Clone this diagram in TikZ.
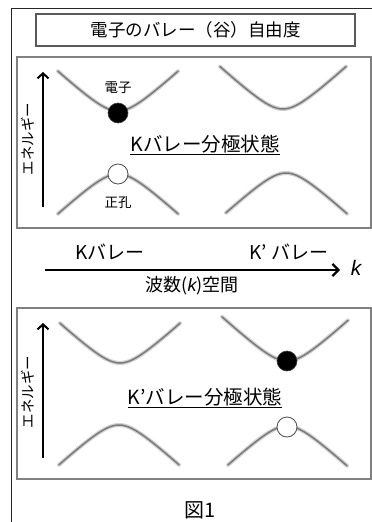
\documentclass[tikz,border=0pt]{standalone}
\usepackage{fontspec}
\setmainfont{Noto Sans CJK JP}
\newfontfamily\lsans{Liberation Sans}
\usetikzlibrary{arrows.meta}
\tikzset{
  frameline/.style={draw=black!85, line width=0.9pt},
  panel/.style={draw=black!50, line width=1.2pt},
  titlebox/.style={draw=black!65, line width=1.1pt, minimum width=319pt, minimum height=32pt, font=\fontsize{17.5}{17.5}\selectfont},
  band/.style={draw=black!52, line width=1.5pt, line cap=round},
  bandshadow/.style={draw=black!18, line width=4pt, line cap=round},
  elec/.style={circle, fill=black, draw=black!75, line width=0.6pt, minimum size=20pt, inner sep=0pt},
  hole/.style={circle, fill=white, draw=black!70, line width=0.8pt, minimum size=20pt, inner sep=0pt},
  earrow/.style={-{Straight Barb[length=5pt,width=11pt,line width=2pt]}, line width=2.4pt},
  karrow/.style={-{Straight Barb[length=6pt,width=12pt,line width=2.2pt]}, line width=2.2pt},
  small/.style={font=\fontsize{13.5}{13.5}\selectfont, inner sep=0pt},
  mid/.style={font=\fontsize{19}{19}\selectfont, inner sep=0pt},
  state/.style={font=\fontsize{19.5}{19.5}\selectfont, inner sep=0pt},
  elabel/.style={font=\fontsize{14.5}{14.5}\selectfont, inner sep=0pt, rotate=90},
}
\newcommand\condband[4]{%
  \draw[bandshadow] plot[domain=#3:#4, samples=41, smooth] ({#1+\x},{#2-0.92*(sqrt(400+\x*\x)-20)});
  \draw[band] plot[domain=#3:#4, samples=41, smooth] ({#1+\x},{#2-0.92*(sqrt(400+\x*\x)-20)});}
\newcommand\valband[4]{%
  \draw[bandshadow] plot[domain=#3:#4, samples=41, smooth] ({#1+\x},{#2+0.92*(sqrt(400+\x*\x)-20)});
  \draw[band] plot[domain=#3:#4, samples=41, smooth] ({#1+\x},{#2+0.92*(sqrt(400+\x*\x)-20)});}
\begin{document}
\begin{tikzpicture}[x=1pt,y=-1pt]
\useasboundingbox (0,0) rectangle (372,522);
\fill[white] (0,0) rectangle (372,522);
% outer frame
\draw[frameline] (11,522) -- (11,8) -- (372,8);
% title
\node[titlebox] (title) at (195.5,30) {電子のバレー（谷）自由度};
% panels
\draw[panel] (17,57) rectangle (371,228);
\draw[panel] (17,308) rectangle (371,479);
% upper panel
\coordinate (ua0) at (43,207);
\coordinate (ua1) at (43,72);
\draw[earrow] (ua0) -- (ua1);
\node[elabel] (ue) at (28,139) {エネルギー};
\condband{118}{111}{-60}{60}
\condband{283}{109}{-63}{63}
\valband{118}{174}{-60}{60}
\valband{286}{173}{-60}{61}
\node[elec] (e1) at (118,113) {};
\node[hole] (h1) at (118,174) {};
\node[small] (e1l) at (118,88) {電子};
\node[small] (h1l) at (118,203) {正孔};
\node[state] (s1) at (205,145) {\underline{Kバレー分極状態}};
% k axis
\coordinate (k0) at (45,270);
\coordinate (k1) at (340,270);
\draw[karrow] (k0) -- (k1);
\node[font=\fontsize{21}{21}\selectfont\lsans\itshape, inner sep=0pt] (kl) at (356,268) {k};
\node[mid] (kv) at (110,252) {Kバレー};
\node[mid] (kpv) at (289,252) {K’ バレー};
\node[font=\fontsize{18}{18}\selectfont, inner sep=0pt] (ks) at (192,286) {波数({\lsans\itshape k})空間};
% lower panel
\coordinate (la0) at (43,458);
\coordinate (la1) at (43,323);
\draw[earrow] (la0) -- (la1);
\node[elabel] (le) at (28,392) {エネルギー};
\condband{120}{363}{-60}{60}
\condband{287}{361}{-65}{61}
\valband{119}{425}{-60}{60}
\valband{287}{426}{-59}{60}
\node[elec] (e2) at (287,361) {};
\node[hole] (h2) at (287,427) {};
\node[state] (s2) at (205,398) {\underline{K’バレー分極状態}};
\node[font=\fontsize{20}{20}\selectfont, inner sep=0pt] (fig) at (200,510) {図1};
\end{tikzpicture}
\end{document}
